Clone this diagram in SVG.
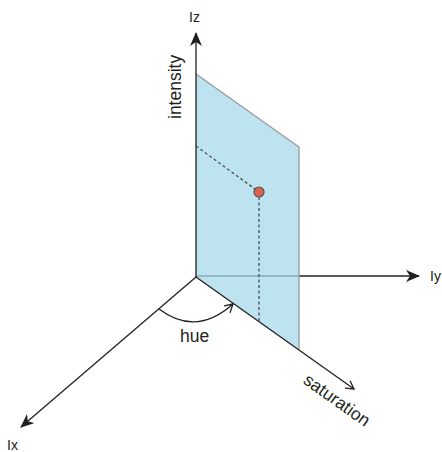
<svg xmlns="http://www.w3.org/2000/svg" width="442" height="452" viewBox="0 0 442 452">
<style>
.ax{stroke:#231f20;stroke-width:1.3;fill:none}
.dash{stroke:#4d4d4f;stroke-width:1.3;fill:none;stroke-dasharray:3 2.5}
.lbl{font-family:"Liberation Sans",Arial,sans-serif;font-size:17.5px;fill:#231f20}
.ax-lbl{font-family:"Liberation Sans",Arial,sans-serif;font-size:14px;fill:#231f20}
</style>
<defs>
<marker id="solid" viewBox="0 0 14 12" refX="13" refY="6" markerWidth="14" markerHeight="12" markerUnits="userSpaceOnUse" orient="auto">
<path d="M0,0 L14,6 L0,12 L4,6 Z" fill="#231f20"/>
</marker>
<marker id="open" viewBox="0 0 10 10" refX="9" refY="5" markerWidth="10" markerHeight="10" markerUnits="userSpaceOnUse" orient="auto">
<path d="M1,0.5 L9,5 L1,9.5" fill="none" stroke="#231f20" stroke-width="1.3"/>
</marker>
</defs>
<rect width="442" height="452" fill="#fff"/>
<g id="connectors">
<line id="axis-y" class="ax" x1="196" y1="276" x2="419" y2="276" marker-end="url(#solid)"/>
</g>
<g id="plane">
<polygon points="196,74 299,147 299,350 196,277" fill="#a7daeb" fill-opacity="0.75"/>
<polyline points="196,74 299,147 299,350" fill="none" stroke="#999" stroke-width="1.3"/>
</g>
<g id="axes">
<line id="axis-z" class="ax" x1="196" y1="277" x2="196" y2="33" marker-end="url(#solid)"/>
<line id="axis-x" class="ax" x1="196" y1="277" x2="21" y2="427" marker-end="url(#solid)"/>
<line id="axis-sat" class="ax" x1="196" y1="277" x2="354" y2="389" marker-end="url(#open)"/>
<path id="hue-arc" class="ax" d="M159,309 Q196,337 233,304" marker-end="url(#open)"/>
<line class="dash" x1="196" y1="146" x2="255" y2="189"/>
<line class="dash" x1="259" y1="197" x2="259" y2="322"/>
</g>
<g id="point">
<circle cx="259" cy="192" r="5" fill="#e0604f" stroke="#555" stroke-width="1.2"/>
</g>
<g id="labels">
<text class="ax-lbl" x="189" y="22">Iz</text>
<text class="ax-lbl" x="430" y="281">Iy</text>
<text class="ax-lbl" x="7" y="450">Ix</text>
<text class="lbl" transform="translate(181,119) rotate(-90)">intensity</text>
<text class="lbl" x="180" y="342">hue</text>
<text class="lbl" text-anchor="middle" transform="translate(337,400) rotate(35.5)" y="6">saturation</text>
</g>
</svg>
